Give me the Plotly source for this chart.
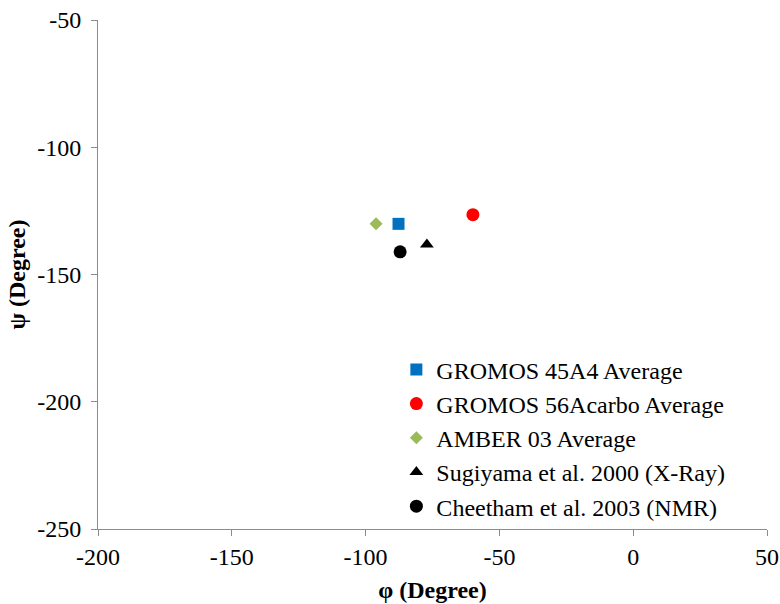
import plotly.graph_objects as go

names = ["GROMOS 45A4 Average", "GROMOS 56Acarbo Average", "AMBER 03 Average",
         "Sugiyama et al. 2000 (X-Ray)", "Cheetham et al. 2003 (NMR)"]
phi = [-87.7, -59.9, -96.1, -77.1, -87.1]
psi = [-130.1, -126.5, -130.1, -138.2, -141.1]
colors = ["#0070C0", "#FF0000", "#9BBB59", "#000000", "#000000"]
symbols = ["square", "circle", "diamond", "triangle-up", "circle"]
sizes = [12, 13, 10, 12, 13]

x_ticks = [-200, -150, -100, -50, 0, 50]
x_ticktext = ["-200", "-150", "-100", "-50", "0", "50"]
y_ticks = [-250, -200, -150, -100, -50]
y_ticktext = ["-250", "-200", "-150", "-100", "-50"]

fig = go.Figure()
for n, x, y, c, s, sz in zip(names, phi, psi, colors, symbols, sizes):
    fig.add_trace(go.Scatter(x=[x], y=[y], mode="markers", name=n, legendgroup=n,
                             marker=dict(color=c, symbol=s, size=sz, line=dict(width=0))))

font = "Liberation Serif, Times New Roman, serif"
axis_common = dict(showgrid=False, zeroline=False, showline=True, linecolor="#8c8c8c",
                   linewidth=1, ticks="outside", ticklen=6, tickcolor="#8c8c8c", automargin=False,
                   tickfont=dict(family=font, size=24, color="black"))
fig.update_layout(
    width=780, height=604,
    margin=dict(l=98, r=13, t=20, b=75),
    plot_bgcolor="white", paper_bgcolor="white",
    xaxis=dict(range=[-200, 50], tickmode="array", tickvals=x_ticks, ticktext=x_ticktext,
               title=dict(text="<b>φ (Degree)</b>", font=dict(family=font, size=24, color="black"), standoff=12),
               **axis_common),
    yaxis=dict(range=[-250, -50], tickmode="array", tickvals=y_ticks, ticktext=y_ticktext,
               ticklabelstandoff=5,
               title=dict(text="<b>ψ (Degree)</b>", font=dict(family=font, size=24, color="black"), standoff=4),
               **axis_common),
    legend=dict(x=0.446, y=0.357, xanchor="left", yanchor="top", bgcolor="rgba(0,0,0,0)",
                font=dict(family=font, size=24, color="black"), tracegroupgap=0,
                itemwidth=30),
    showlegend=True,
)
fig.write_html("out.html")
